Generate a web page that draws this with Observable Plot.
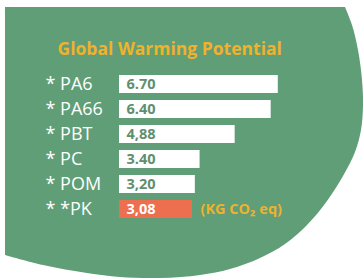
<!DOCTYPE html>
<html>
<head>
<meta charset="utf-8">
<script src="https://cdn.jsdelivr.net/npm/d3@7"></script>
<script src="https://cdn.jsdelivr.net/npm/@observablehq/plot@0.6"></script>
<style>
  html, body { margin: 0; padding: 0; background: #ffffff; }
  #wrap { position: relative; width: 364px; height: 279px; overflow: hidden; }
  #bg { position: absolute; left: 0; top: 0; }
  #chart { position: absolute; left: 0; top: 0; }
</style>
</head>
<body>
<div id="wrap">
  <svg id="bg" width="364" height="279"><path id="blob" fill="#5f9e77"/></svg>
  <div id="chart"></div>
</div>
<script>
const title = "Global Warming Potential";
const categories = ["* PA6", "* PA66", "* PBT", "* PC", "* POM", "* *PK"];
const values = [6.70, 6.40, 4.88, 3.40, 3.20, 3.08];
const valueLabels = ["6.70", "6.40", "4,88", "3.40", "3,20", "3,08"];
const highlight = "* *PK";
const unitLabel = "(KG CO\u2082 eq)";

// decorative background outline (not data)
const outline = [[345,7],[352,25],[358,50],[362,80],[363,105],[361,130],[355,152],[343,176],[327,201],[307,225],[285,244],[260,258],[230,269],[200,275],[160,278],[120,277],[87,273],[43,265],[5,255]];
document.getElementById("blob").setAttribute("d",
  "M5,7" + d3.line().curve(d3.curveCatmullRom)(outline).replace(/^M/, "L") + "Z");

const data = categories.map((c, i) => ({ cat: c, value: values[i], label: valueLabels[i] }));
const orange = "#ee6f4f";
const gold = "#f0b12c";
const font = "'Open Sans', sans-serif";

const plot = Plot.plot({
  width: 364,
  height: 279,
  marginLeft: 119,
  marginRight: 8,
  marginTop: 70.4,
  marginBottom: 57.4,
  style: { background: "transparent", fontFamily: font },
  x: { domain: [0, 10], axis: null },
  y: { domain: categories, axis: null, paddingInner: 0.286, paddingOuter: 0.143 },
  marks: [
    Plot.barX(data, { x: "value", y: "cat", fill: d => d.cat === highlight ? orange : "#ffffff" }),
    Plot.text(data, {
      x: 0, y: "cat", text: "label", dx: 7, textAnchor: "start",
      fill: d => d.cat === highlight ? "#ffffff" : "#5f8f6e",
      fontSize: 14.5, fontWeight: "bold", fontFamily: font
    }),
    Plot.text(data, {
      y: "cat", text: "cat", frameAnchor: "left", dx: -74, textAnchor: "start",
      fill: "#ffffff", fontSize: 18, fontFamily: font
    }),
    Plot.text(data.filter(d => d.cat === highlight), {
      x: "value", y: "cat", text: () => unitLabel, dx: 8, textAnchor: "start",
      fill: gold, fontSize: 14.5, fontWeight: "bold", fontFamily: font
    }),
    Plot.text([title], {
      frameAnchor: "top-left", dx: -62, dy: -16.4, lineAnchor: "bottom", textAnchor: "start",
      fill: gold, fontSize: 17.5, fontWeight: "bold", fontFamily: font
    })
  ]
});
document.getElementById("chart").appendChild(plot);
</script>
</body>
</html>
